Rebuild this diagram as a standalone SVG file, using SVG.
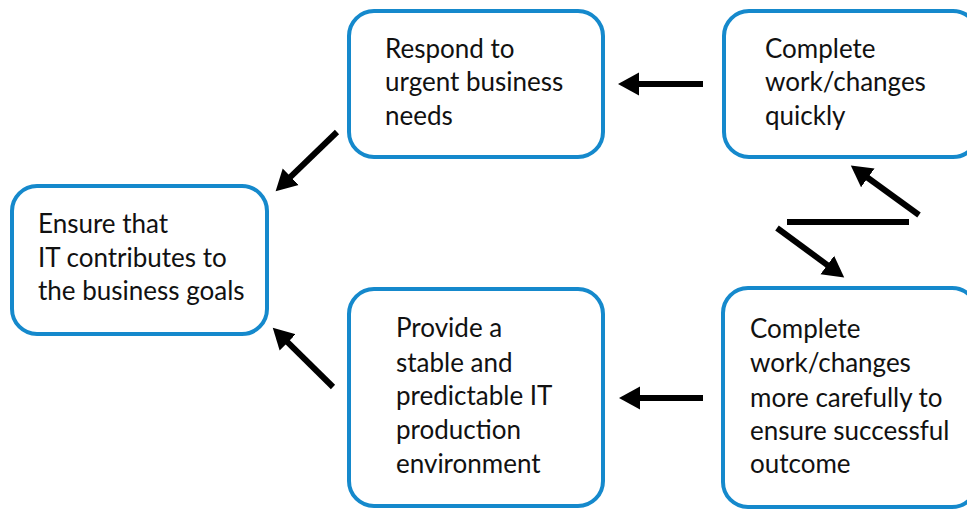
<svg xmlns="http://www.w3.org/2000/svg" width="967" height="510" viewBox="0 0 967 510">
<defs>
<style>
.box{fill:#fff;stroke:#1589cc;stroke-width:4}
.t{font-family:Lato,"Open Sans","Liberation Sans",sans-serif;font-size:26px;fill:#111}
.c{stroke:#000;stroke-width:6;fill:none}
</style>
<marker id="ah" markerUnits="userSpaceOnUse" markerWidth="24" markerHeight="26" refX="1" refY="11.5" orient="auto" viewBox="0 0 24 23">
<path d="M0,0 L21,11.5 L0,23 z" fill="#000"/>
</marker>
</defs>
<rect width="967" height="510" fill="#fff"/>
<g id="n1"><rect class="box" x="12" y="186" width="255" height="148" rx="25"/>
<text class="t" x="38" y="233">Ensure that</text><text class="t" x="38" y="267">IT contributes to</text><text class="t" x="38" y="300">the business goals</text></g>
<g id="n2"><rect class="box" x="349" y="11" width="254" height="146" rx="25"/>
<text class="t" x="385" y="58">Respond to</text><text class="t" x="385" y="91">urgent business</text><text class="t" x="385" y="125">needs</text></g>
<g id="n3"><rect class="box" x="724" y="11" width="254" height="146" rx="25"/>
<text class="t" x="765" y="58">Complete</text><text class="t" x="765" y="91">work/changes</text><text class="t" x="765" y="125">quickly</text></g>
<g id="n4"><rect class="box" x="349" y="289" width="254" height="217" rx="25"/>
<text class="t" x="396" y="337">Provide a</text><text class="t" x="396" y="372">stable and</text><text class="t" x="396" y="405">predictable IT</text><text class="t" x="396" y="439">production</text><text class="t" x="396" y="473">environment</text></g>
<g id="n5"><rect class="box" x="723" y="288" width="254" height="219" rx="25"/>
<text class="t" x="750" y="338">Complete</text><text class="t" x="750" y="372">work/changes</text><text class="t" x="750" y="407">more carefully to</text><text class="t" x="750" y="440">ensure successful</text><text class="t" x="750" y="473">outcome</text></g>
<g id="connectors">
<line class="c" x1="703" y1="84" x2="638" y2="84" marker-end="url(#ah)"/>
<line class="c" x1="703" y1="398" x2="639" y2="398" marker-end="url(#ah)"/>
<line class="c" x1="337" y1="132" x2="290" y2="177.4" marker-end="url(#ah)"/>
<line class="c" x1="333" y1="387" x2="287" y2="341.7" marker-end="url(#ah)"/>
<line class="c" x1="919" y1="215" x2="867" y2="177.3" marker-end="url(#ah)"/>
<line class="c" x1="787" y1="222" x2="909" y2="222"/>
<line class="c" x1="777" y1="228" x2="828.1" y2="265.6" marker-end="url(#ah)"/>
</g>
</svg>
